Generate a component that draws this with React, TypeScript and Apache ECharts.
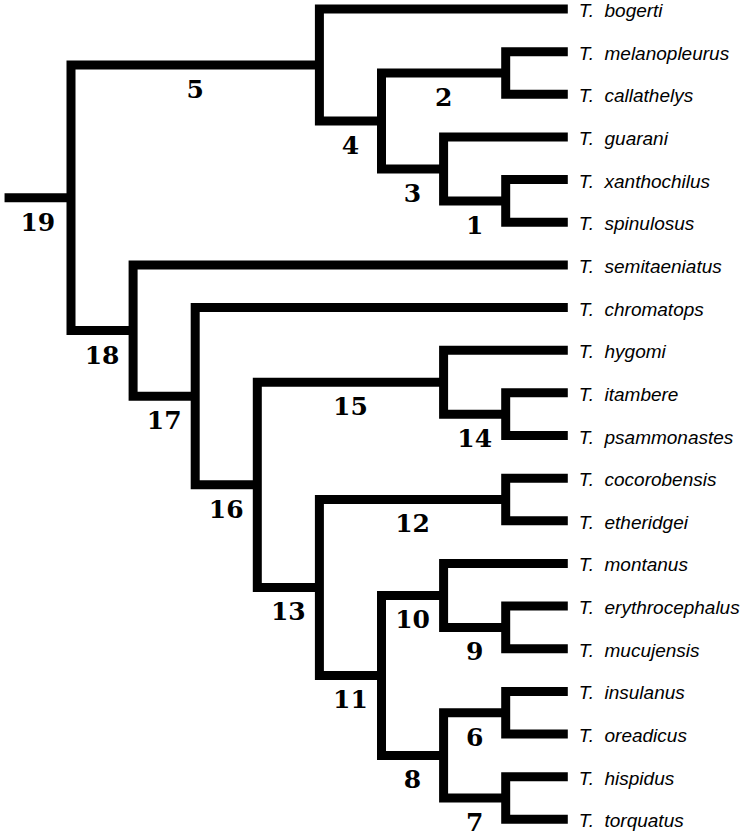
import React, { useEffect, useRef } from "react";
import * as echarts from "echarts";

// ---- Data -------------------------------------------------------------
const genus = "T.";
const species = [
  "bogerti",
  "melanopleurus",
  "callathelys",
  "guarani",
  "xanthochilus",
  "spinulosus",
  "semitaeniatus",
  "chromatops",
  "hygomi",
  "itambere",
  "psammonastes",
  "cocorobensis",
  "etheridgei",
  "montanus",
  "erythrocephalus",
  "mucujensis",
  "insulanus",
  "oreadicus",
  "hispidus",
  "torquatus",
];

// clade number, its upper child and its lower child (species name or clade number)
const cladeNumbers = ["1", "2", "3", "4", "5", "6", "7", "8", "9", "10", "11", "12", "13", "14", "15", "16", "17", "18", "19"];
const cladeUpper = ["xanthochilus", "melanopleurus", "guarani", "2", "bogerti", "insulanus", "hispidus", "6", "erythrocephalus", "montanus", "10", "cocorobensis", "12", "itambere", "hygomi", "15", "chromatops", "semitaeniatus", "5"];
const cladeLower = ["spinulosus", "callathelys", "1", "3", "4", "oreadicus", "torquatus", "7", "mucujensis", "9", "8", "etheridgei", "11", "psammonastes", "14", "13", "16", "17", "18"];

const rootStemLength = 1.07; // in branch levels

// ---- Tree layout (levels / tip indices, mapped by the axes) ------------
const childrenOf: Record<string, [string, string]> = {};
const parentOf: Record<string, string> = {};
cladeNumbers.forEach((n, i) => {
  childrenOf[n] = [cladeUpper[i], cladeLower[i]];
  parentOf[cladeUpper[i]] = n;
  parentOf[cladeLower[i]] = n;
});
const heightMemo: Record<string, number> = {};
const yMemo: Record<string, number> = {};
species.forEach((s, i) => {
  heightMemo[s] = 0;
  yMemo[s] = i;
});
function heightOf(id: string): number {
  if (heightMemo[id] !== undefined) return heightMemo[id];
  const [a, b] = childrenOf[id];
  const v = Math.max(heightOf(a), heightOf(b)) + 1;
  heightMemo[id] = v;
  return v;
}
function yOf(id: string): number {
  if (yMemo[id] !== undefined) return yMemo[id];
  const [a, b] = childrenOf[id];
  const v = (yOf(a) + yOf(b)) / 2;
  yMemo[id] = v;
  return v;
}
const rootId = cladeNumbers.find((n) => !parentOf[n]) as string;
const maxHeight = heightOf(rootId);
const levelOf = (id: string) => maxHeight - heightOf(id);

const W = 751;
const H = 838;

export default function App() {
  const ref = useRef<HTMLDivElement>(null);
  useEffect(() => {
    if (!ref.current) return;
    const chart = echarts.init(ref.current, undefined, { renderer: "svg" });
    const xPx0 = 71;
    const xStep = 62.1;
    const yPx0 = 9;
    const yStep = 42.65;
    const xMin = -xPx0 / xStep;
    const yMin = -yPx0 / yStep;
    const lineStyle = {
      stroke: "#000",
      lineWidth: 9,
      lineJoin: "miter",
      lineCap: "butt",
      fill: "none",
    };

    chart.setOption({
      animation: false,
      backgroundColor: "#fff",
      grid: { left: 0, right: 0, top: 0, bottom: 0 },
      xAxis: { type: "value", min: xMin, max: xMin + W / xStep, show: false },
      yAxis: { type: "value", inverse: true, min: yMin, max: yMin + H / yStep, show: false },
      series: [
        {
          type: "custom",
          coordinateSystem: "cartesian2d",
          data: cladeNumbers.map((id) => [levelOf(id), yOf(id)]),
          renderItem: (params: any, api: any) => {
            const id = cladeNumbers[params.dataIndex];
            const [a, b] = childrenOf[id];
            const pn = api.coord([api.value(0), api.value(1)]);
            const pa = api.coord([levelOf(a), yOf(a)]);
            const pb = api.coord([levelOf(b), yOf(b)]);
            const parentLevel = parentOf[id] ? levelOf(parentOf[id]) : levelOf(id) - rootStemLength;
            const pp = api.coord([parentLevel, yOf(id)]);
            const children: any[] = [
              {
                type: "polyline",
                shape: {
                  points: [
                    [pa[0], pa[1]],
                    [pn[0], pa[1]],
                    [pn[0], pb[1]],
                    [pb[0], pb[1]],
                  ],
                },
                style: lineStyle,
              },
              {
                type: "text",
                style: {
                  text: id,
                  x: (pp[0] + pn[0]) / 2,
                  y: pn[1] + 24.5,
                  fill: "#000",
                  font: 'bold 25px "DejaVu Serif"',
                  align: "center",
                  verticalAlign: "middle",
                },
              },
            ];
            if (!parentOf[id]) {
              children.push({
                type: "line",
                shape: { x1: pp[0], y1: pp[1], x2: pn[0], y2: pn[1] },
                style: lineStyle,
              });
            }
            return { type: "group", children };
          },
        },
        {
          type: "custom",
          coordinateSystem: "cartesian2d",
          data: species.map((s, i) => [levelOf(s), i]),
          renderItem: (params: any, api: any) => {
            const name = species[params.dataIndex];
            const p = api.coord([api.value(0), api.value(1)]);
            return {
              type: "text",
              style: {
                text: genus + "  " + name,
                x: p[0] + 11,
                y: p[1] + 1.5,
                fill: "#000",
                font: 'italic 19px "Liberation Sans"',
                align: "left",
                verticalAlign: "middle",
              },
            };
          },
        },
      ],
    });
    return () => chart.dispose();
  }, []);
  return (
    <div
      ref={ref}
      style={{ position: "fixed", left: 0, top: 0, width: W, height: H, background: "#fff" }}
    />
  );
}
